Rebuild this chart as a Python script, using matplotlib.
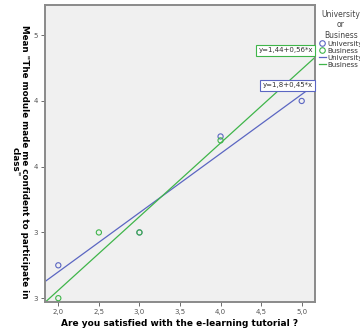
import numpy as np
import matplotlib
matplotlib.use("Agg")
import matplotlib.pyplot as plt
from matplotlib.lines import Line2D

# data
uni_x = [2.0, 3.0, 4.0, 5.0]
uni_y = [2.75, 3.0, 3.73, 4.0]
bus_x = [2.0, 2.5, 3.0, 4.0]
bus_y = [2.5, 3.0, 3.0, 3.7]
uni_fit = [1.8, 0.45]   # intercept, slope
bus_fit = [1.44, 0.56]
uni_label = "y=1,8+0,45*x"
bus_label = "y=1,44+0,56*x"

xticks = [2.0, 2.5, 3.0, 3.5, 4.0, 4.5, 5.0]
xticklabels = ["2,0", "2,5", "3,0", "3,5", "4,0", "4,5", "5,0"]
yticks = [2.5, 3.0, 3.5, 4.0, 4.5]
yticklabels = ["3", "3", "4", "4", "5"]

blue = "#5b66c2"
green = "#3fb54a"

fig = plt.figure(figsize=(3.6, 3.32), dpi=100)
ax = fig.add_axes([0.125, 0.09, 0.75, 0.895])
ax.set_facecolor("#f0f0f0")
xmin, xmax = 1.836, 5.164
ax.set_xlim(xmin, xmax)
ax.set_ylim(2.47, 4.73)

xs = np.array([xmin, xmax])
ax.plot(xs, uni_fit[0] + uni_fit[1] * xs, color=blue, lw=0.9, zorder=2)
ax.plot(xs, bus_fit[0] + bus_fit[1] * xs, color=green, lw=0.9, zorder=2)
ax.scatter(uni_x, uni_y, s=14, facecolors="none", edgecolors=blue, linewidths=0.8, zorder=3)
ax.scatter(bus_x, bus_y, s=14, facecolors="none", edgecolors=green, linewidths=0.8, zorder=3)

ax.text(5.14, 4.385, bus_label, fontsize=5, ha="right", va="center", color="#333333",
        bbox=dict(boxstyle="square,pad=0.35", fc="white", ec=green, lw=0.8), zorder=4)
ax.text(5.14, 4.12, uni_label, fontsize=5, ha="right", va="center", color="#333333",
        bbox=dict(boxstyle="square,pad=0.35", fc="white", ec=blue, lw=0.8), zorder=4)

ax.set_xticks(xticks)
ax.set_xticklabels(xticklabels)
ax.set_yticks(yticks)
ax.set_yticklabels(yticklabels)
ax.tick_params(labelsize=5, colors="#555555", length=3, width=0.6, pad=2)
for s in ax.spines.values():
    s.set_color("#8a8a8a")
    s.set_linewidth(1.4)

ax.set_xlabel("Are you satisfied with the e-learning tutorial ?", fontsize=6.5,
              fontweight="bold", labelpad=3)
# y title reads top to bottom, as in SPSS
fig.text(20 / 360, 1 - 162 / 332,
         "Mean \"The module made me confident to participate in\nclass\"",
         fontsize=6.3, fontweight="bold", rotation=270, ha="center", va="center",
         multialignment="center", linespacing=1.0)

handles = [
    Line2D([], [], marker="o", ls="none", mfc="none", mec=blue, ms=4, mew=0.8),
    Line2D([], [], marker="o", ls="none", mfc="none", mec=green, ms=4, mew=0.8),
    Line2D([], [], color=blue, lw=0.9),
    Line2D([], [], color=green, lw=0.9),
]
leg = fig.legend(handles, ["University", "Business", "University", "Business"],
                 title="University\nor\nBusiness", loc="upper left",
                 bbox_to_anchor=(0.872, 0.985), frameon=False, fontsize=5,
                 title_fontsize=5.5, handlelength=1.0, handletextpad=0.3,
                 labelspacing=0.15, borderpad=0.2)
leg.get_title().set_color("#444444")
leg.get_title().set_multialignment("center")
for t in leg.get_texts():
    t.set_color("#333333")

fig.savefig("out.png", dpi=100)
